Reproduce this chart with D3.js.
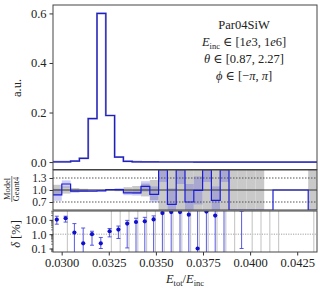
<!DOCTYPE html>
<html><head><meta charset="utf-8">
<script src="https://cdn.jsdelivr.net/npm/d3@7"></script>
<style>
body{margin:0;background:#fff;}
svg{display:block;}
text{font-family:"Liberation Serif","DejaVu Serif",serif;fill:#222;}
</style></head>
<body>
<svg id="c" width="324" height="292"></svg>
<script>
// ---------- data ----------
const binStart = 0.02954;
const binWidth = 0.000467;
const nBins = 30;
// main histogram (a.u.)
const geant4Hist = [0.001,0.001,0.004,0.015,0.176,0.600,0.188,0.020,0.003,0.0008,0.0005,0.0004,0.0003,0.0002,0.0002,0.0002,0.0001,0.0001,0.0001,0.0001,0,0,0,0,0,0,0,0,0,0];
const modelHist  = [0.001,0.001,0.004,0.015,0.175,0.600,0.188,0.020,0.003,0.0008,0.0005,0.0004,0.0003,0.0002,0.0002,0.0002,0.0001,0.0001,0.0001,0.0001,0,0,0,0,0,0,0,0,0,0];
// Model / Geant4 ratio
const ratio      = [0.88,1.15,0.97,0.97,0.97,0.98,1.01,1.01,0.93,0.93,1.09,0.89,1.6,0.64,1.6,0.70,0.99,1.6,0.74,1.6,0,0,0,0,0,1.0,1.0,1.0,1.0,0];
const ratioErr   = [0.15,0.09,0.04,0.02,0.01,0.01,0.01,0.03,0.06,0.07,0.13,0.2,0.4,0.4,0.45,0.45,0.35,0.4,0.35,0.4,0,0,0,0,0,0,0,0,0,0];
const g4Err      = [0.13,0.09,0.05,0.03,0.01,0.01,0.01,0.03,0.07,0.1,0.16,0.25,0.6,0.6,0.6,0.6,0.6,0.6,0.6,0.6,1,1,1,1,0,0,0,0,0,1];
// delta [%] (model), NaN = no entry
const deltaVal   = [10.5,13,1.3,0.23,1.0,0.23,1.6,2.1,5.5,7.1,7.9,10.8,30,35,35,23,0.1,38,20,200,NaN,300,NaN,NaN,NaN,NaN,NaN,NaN,NaN,NaN];
const deltaLo    = [5,7,0.01,0.01,0.17,0.1,0.65,0.5,0.11,0.01,0.01,0.01,0.01,0.01,0.01,0.01,0.01,0.01,0.01,0.01,NaN,0.1,NaN,NaN,NaN,NaN,NaN,NaN,NaN,NaN];
const deltaHi    = [18,18,5.5,2.7,1.6,0.59,2.5,3.7,9.2,13,15,19,300,300,300,300,300,300,300,300,NaN,40,NaN,NaN,NaN,NaN,NaN,NaN,NaN,NaN];
// delta [%] (Geant4) present bins, 1 = line shown
const g4Delta    = [0,1,0,0,0,0,1,1,1,1,1,1,1,1,1,1,1,1,1,1,1,0,1,1,1,1,0,0,0,1];
const xTicks = [0.0300,0.0325,0.0350,0.0375,0.0400,0.0425];
const yMainTicks = [0.0,0.2,0.4,0.6];
const yRatioTicks = [0.7,1.0,1.3];
const yDeltaTicks = [0.1,1.0,10.0];
const annotation = ["Par04SiW"];

// ---------- layout ----------
const L = 53, R = 317;
const mainTop = 5, mainBot = 169.5;
const ratTop = 170, ratBot = 210;
const delTop = 211, delBot = 252;
const blue = "#1c1cd2";

const svg = d3.select("#c");
const x = d3.scaleLinear().domain([binStart, binStart + nBins*binWidth]).range([L, R]);
const yM = d3.scaleLinear().domain([-0.03, 0.634]).range([mainBot, mainTop]);
const yR = d3.scaleLinear().domain([0.5, 1.5]).range([ratBot, ratTop]);
const yD = d3.scaleLog().domain([0.057, 41.6]).range([delBot, delTop]);

const edges = d3.range(nBins + 1).map(i => binStart + i*binWidth);
const centers = d3.range(nBins).map(i => binStart + (i + 0.5)*binWidth);

function clip(id, y0, y1){
  svg.append("clipPath").attr("id", id).append("rect")
    .attr("x", L).attr("y", y0).attr("width", R - L).attr("height", y1 - y0);
}
clip("cm", mainTop, mainBot); clip("cr", ratTop, ratBot); clip("cd", delTop, delBot);

function stepPath(vals, ys){
  let p = "";
  vals.forEach((v, i) => {
    const y = ys(v);
    p += (i === 0 ? "M" : "L") + x(edges[i]) + "," + y + "L" + x(edges[i+1]) + "," + y;
  });
  return p;
}
function styleAxis(fs){
  return g => { g.select(".domain").remove(); g.selectAll("text").attr("font-size", fs).attr("font-family","Liberation Serif").attr("fill","#222"); g.selectAll("line").attr("stroke","#333"); };
}

// ---------- main panel ----------
const gm = svg.append("g").attr("clip-path", "url(#cm)");
gm.append("path").attr("d", stepPath(geant4Hist, yM)).attr("fill", "none")
  .attr("stroke", "#a4a4b4").attr("stroke-width", 2.0);
gm.append("path").attr("d", stepPath(modelHist, yM)).attr("fill", "none")
  .attr("stroke", blue).attr("stroke-width", 1.2);

svg.append("g").attr("transform", `translate(${L},0)`)
  .call(d3.axisLeft(yM).tickValues(yMainTicks).tickFormat(d3.format(".1f")).tickSize(3.5).tickPadding(3))
  .call(styleAxis(12.5));

// ---------- ratio panel ----------
const gr = svg.append("g").attr("clip-path", "url(#cr)");
centers.forEach((c, i) => {
  if (g4Err[i] > 0) gr.append("rect").attr("x", x(edges[i])).attr("width", x(edges[i+1]) - x(edges[i]))
    .attr("y", yR(1 + g4Err[i])).attr("height", yR(1 - g4Err[i]) - yR(1 + g4Err[i]))
    .attr("fill", "#c9c9c9");
});
centers.forEach((c, i) => {
  if (ratioErr[i] > 0) gr.append("rect").attr("x", x(edges[i])).attr("width", x(edges[i+1]) - x(edges[i]))
    .attr("y", yR(ratio[i] + ratioErr[i])).attr("height", yR(ratio[i] - ratioErr[i]) - yR(ratio[i] + ratioErr[i]))
    .attr("fill", "#5a5ae0").attr("fill-opacity", 0.3);
});
[0.7, 1.3].forEach(v => gr.append("line").attr("x1", L).attr("x2", R).attr("y1", yR(v)).attr("y2", yR(v))
  .attr("stroke", "#444").attr("stroke-width", 0.9).attr("stroke-dasharray", "1.5,1.5"));
gr.append("line").attr("x1", L).attr("x2", R).attr("y1", yR(1)).attr("y2", yR(1)).attr("stroke", "#333").attr("stroke-width", 1);
gr.append("path").attr("d", stepPath(ratio, v => yR(Math.max(0.49, Math.min(1.51, v))))).attr("fill", "none")
  .attr("stroke", blue).attr("stroke-width", 1.2);

svg.append("g").attr("transform", `translate(${L},0)`)
  .call(d3.axisLeft(yR).tickValues(yRatioTicks).tickFormat(d3.format(".1f")).tickSize(3.5).tickPadding(3))
  .call(styleAxis(11.5));

// ---------- delta panel ----------
const gd = svg.append("g").attr("clip-path", "url(#cd)");
gd.append("line").attr("x1", L).attr("x2", R).attr("y1", yD(1)).attr("y2", yD(1))
  .attr("stroke", "#777").attr("stroke-width", 0.7).attr("stroke-dasharray", "1.2,1.2");
centers.forEach((c, i) => {
  if (g4Delta[i]) gd.append("line").attr("x1", x(c) + 1.2).attr("x2", x(c) + 1.2)
    .attr("y1", delTop).attr("y2", delBot).attr("stroke", "#cbcbcb").attr("stroke-width", 1.2);
});
centers.forEach((c, i) => {
  if (isNaN(deltaLo[i])) return;
  const xc = x(c) - 0.6;
  const y1 = yD(Math.max(0.01, deltaLo[i])), y2 = yD(deltaHi[i]);
  gd.append("line").attr("x1", xc).attr("x2", xc).attr("y1", y1).attr("y2", y2)
    .attr("stroke", "#4646e0").attr("stroke-width", 0.9);
  [deltaLo[i], deltaHi[i]].forEach(v => gd.append("line").attr("x1", xc - 2).attr("x2", xc + 2)
    .attr("y1", yD(v)).attr("y2", yD(v)).attr("stroke", "#4646e0").attr("stroke-width", 0.9));
  if (!isNaN(deltaVal[i])) gd.append("circle").attr("cx", xc).attr("cy", yD(deltaVal[i])).attr("r", 2.1).attr("fill", "#1010cc");
});

svg.append("g").attr("transform", `translate(${L},0)`)
  .call(d3.axisLeft(yD).tickValues(yDeltaTicks).tickFormat(d3.format(".1f")).tickSize(3.5).tickPadding(3))
  .call(styleAxis(12));
const minor = [];
[0.01, 0.1, 1, 10].forEach(d => [2,3,4,5,6,7,8,9].forEach(m => { const v = d*m; if (v > 0.057 && v < 41.6) minor.push(v); }));
svg.append("g").selectAll("line").data(minor).join("line")
  .attr("x1", L - 2).attr("x2", L).attr("y1", d => yD(d)).attr("y2", d => yD(d)).attr("stroke", "#333").attr("stroke-width", 0.6);

svg.append("g").attr("transform", `translate(0,${delBot})`)
  .call(d3.axisBottom(x).tickValues(xTicks).tickFormat(d3.format(".4f")).tickSize(3.5).tickPadding(3))
  .call(styleAxis(12.5));

// frames
[[mainTop, mainBot], [ratTop, ratBot], [delTop, delBot]].forEach(([a, b]) =>
  svg.append("rect").attr("x", L).attr("y", a).attr("width", R - L).attr("height", b - a)
    .attr("fill", "none").attr("stroke", "#444").attr("stroke-width", 1));

// ---------- text ----------
const ax = 244;
svg.append("text").attr("x", ax).attr("y", 29).attr("text-anchor", "middle").attr("font-size", 12.5).text(annotation[0]);
const t2 = svg.append("text").attr("x", ax).attr("y", 46).attr("text-anchor", "middle").attr("font-size", 12.5);
t2.append("tspan").attr("font-style", "italic").text("E");
t2.append("tspan").attr("font-size", 8.5).attr("dy", 2.5).text("inc");
t2.append("tspan").attr("dy", -2.5).text(" ∈ [1");
t2.append("tspan").attr("font-style", "italic").text("e");
t2.append("tspan").text("3, 1");
t2.append("tspan").attr("font-style", "italic").text("e");
t2.append("tspan").text("6]");
const t3 = svg.append("text").attr("x", ax).attr("y", 63).attr("text-anchor", "middle").attr("font-size", 12.5);
t3.append("tspan").attr("font-style", "italic").text("θ");
t3.append("tspan").text(" ∈ [0.87, 2.27]");
const t4 = svg.append("text").attr("x", ax).attr("y", 80).attr("text-anchor", "middle").attr("font-size", 12.5);
t4.append("tspan").attr("font-style", "italic").text("ϕ");
t4.append("tspan").text(" ∈ [−");
t4.append("tspan").attr("font-style", "italic").text("π");
t4.append("tspan").text(", ");
t4.append("tspan").attr("font-style", "italic").text("π");
t4.append("tspan").text("]");

svg.append("text").attr("transform", "translate(21,88) rotate(-90)").attr("text-anchor", "middle").attr("font-size", 12.5).text("a.u.");
svg.append("text").attr("transform", "translate(10,189) rotate(-90)").attr("text-anchor", "middle").attr("font-size", 8.5).text("Model");
svg.append("line").attr("x1", 11.8).attr("x2", 11.8).attr("y1", 176).attr("y2", 202).attr("stroke", "#222").attr("stroke-width", 0.6);
svg.append("text").attr("transform", "translate(19,189) rotate(-90)").attr("text-anchor", "middle").attr("font-size", 8.5).text("Geant4");
const dl = svg.append("text").attr("transform", "translate(20,234) rotate(-90)").attr("text-anchor", "middle").attr("font-size", 12.5);
dl.append("tspan").attr("font-style", "italic").text("δ");
dl.append("tspan").text(" [%]");

const xl = svg.append("text").attr("x", 185).attr("y", 283).attr("text-anchor", "middle").attr("font-size", 12.5);
xl.append("tspan").attr("font-style", "italic").text("E");
xl.append("tspan").attr("font-size", 8.5).attr("dy", 2.5).text("tot");
xl.append("tspan").attr("dy", -2.5).text("/");
xl.append("tspan").attr("font-style", "italic").text("E");
xl.append("tspan").attr("font-size", 8.5).attr("dy", 2.5).text("inc");
</script>
</body></html>
